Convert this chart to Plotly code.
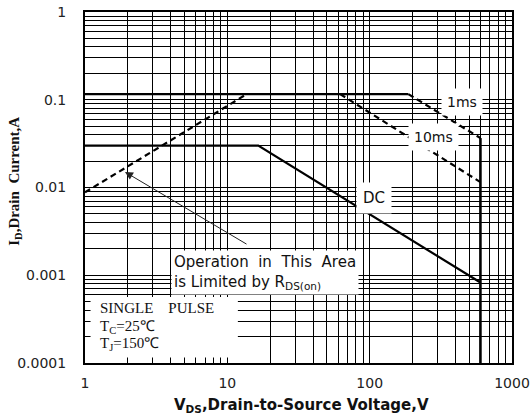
import plotly.graph_objects as go

# ---- data ----
rds_x = [1, 13.7]
rds_y = [0.0088, 0.116]

pulse_x = [1, 187]
pulse_y = [0.116, 0.116]

ms1_x = [187, 600]
ms1_y = [0.116, 0.0366]

ms10_x = [62, 600]
ms10_y = [0.116, 0.0115]

dc_x = [1, 16.5, 600]
dc_y = [0.03, 0.03, 0.000826]

vlim_x = [600, 600]
vlim_y = [0.0366, 0.0001]

x_tickvals = [1, 10, 100, 1000]
x_ticktext = ["1", "10", "100", "1000"]
y_tickvals = [0.0001, 0.001, 0.01, 0.1, 1]
y_ticktext = ["0.0001", "0.001", "0.01", "0.1", "1"]

fig = go.Figure()
solid = dict(color="black", width=2.2)
dashed = dict(color="black", width=2.2, dash="6px,4px")
for xs, ys, ln in [(rds_x, rds_y, dashed), (pulse_x, pulse_y, solid),
                   (ms1_x, ms1_y, dashed), (ms10_x, ms10_y, dashed),
                   (dc_x, dc_y, solid), (vlim_x, vlim_y, dict(color="black", width=2.6))]:
    fig.add_trace(go.Scatter(x=xs, y=ys, mode="lines", line=ln, showlegend=False,
                             hoverinfo="skip"))

tickfont = dict(family="DejaVu Sans", size=14, color="#222")
axis_common = dict(type="log", showgrid=True, gridcolor="black", gridwidth=1.1,
                   showline=True, linecolor="black", linewidth=2, mirror=True,
                   ticks="inside", ticklen=5, tickcolor="black", tickfont=tickfont,
                   zeroline=False, automargin=False)
minor = dict(dtick="D1", showgrid=True, gridcolor="black", gridwidth=1.1,
             ticks="inside", ticklen=5, tickcolor="black")
fig.update_xaxes(range=[0, 3], tickvals=x_tickvals, ticktext=x_ticktext,
                 minor=minor, ticklabelstandoff=6, **axis_common)
fig.update_yaxes(range=[-4, 0], tickvals=y_tickvals, ticktext=y_ticktext,
                 minor=minor, ticklabelstandoff=14, **axis_common)

# white box for SINGLE PULSE notes (leaves the inside ticks visible)
fig.add_shape(type="rect", xref="paper", yref="paper", x0=0.013, x1=0.358, y0=0.016, y1=0.188,
              fillcolor="white", line=dict(width=0), layer="above")

sans = "DejaVu Sans"
serif = "Liberation Serif"
ann = []
ann.append(dict(x=2.649, y=-1.020, text="1ms", font=dict(family=sans, size=14, color="#111"),
                bgcolor="white", borderpad=5))
ann.append(dict(x=2.449, y=-1.425, text="10ms", font=dict(family=sans, size=14, color="#111"),
                bgcolor="white", borderpad=5))
ann.append(dict(x=2.030, y=-2.120, text="DC", font=dict(family=sans, size=15, color="#111"),
                bgcolor="white", borderpad=6))
ann.append(dict(x=0.604, y=-2.712, xanchor="left", yanchor="top", align="left",
                text="Operation\u00a0 in\u00a0 This\u00a0 Area<br>is Limited by R<sub>DS(on)</sub>",
                font=dict(family=sans, size=15, color="#111"), bgcolor="white", borderpad=2))
ann.append(dict(x=0.0913, y=-3.373, xanchor="left", yanchor="middle",
                text="SINGLE\u00a0\u00a0\u00a0 PULSE", font=dict(family=serif, size=15, color="#111")))
ann.append(dict(x=0.0913, y=-3.590, xanchor="left", yanchor="middle",
                text="T<sub>C</sub>=25\u2103", font=dict(family=serif, size=15, color="#111")))
ann.append(dict(x=0.0913, y=-3.783, xanchor="left", yanchor="middle",
                text="T<sub>J</sub>=150\u2103", font=dict(family=serif, size=15, color="#111")))
for a in ann:
    a.update(xref="x", yref="y", showarrow=False)

# arrow pointing to the RDS(on) limit line
ann.append(dict(x=0.281, y=-1.823, xref="x", yref="y", ax=123, ay=73, text="",
                showarrow=True, arrowhead=2, arrowsize=1.6, arrowwidth=1, arrowcolor="#222"))

# axis titles
ann.append(dict(xref="paper", yref="paper", x=-0.164, y=0.519, textangle=-90, showarrow=False,
                xanchor="center", yanchor="middle",
                text="<b>I<sub>D</sub>,Drain\u00a0 Current,A</b>",
                font=dict(family=serif, size=15, color="#111")))
ann.append(dict(xref="paper", yref="paper", x=0.508, y=-0.1197, showarrow=False,
                xanchor="center", yanchor="middle",
                text="<b>V<sub>DS</sub>,Drain-to-Source Voltage,V</b>",
                font=dict(family=sans, size=15, color="#111")))

fig.update_layout(width=532, height=417, margin=dict(l=85, r=20, t=12, b=54),
                  plot_bgcolor="white", paper_bgcolor="white", annotations=ann)

fig.write_html("out.html", config={"displayModeBar": False},
               post_script="document.body.style.margin='0';document.body.style.overflow='hidden';")
